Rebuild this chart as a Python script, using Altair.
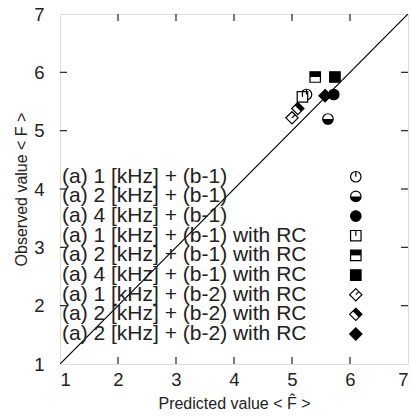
import altair as alt
import pandas as pd

# ---- data ----
series = ["(a) 1 [kHz] + (b-1)", "(a) 2 [kHz] + (b-1)", "(a) 4 [kHz] + (b-1)",
          "(a) 1 [kHz] + (b-1) with RC", "(a) 2 [kHz] + (b-1) with RC", "(a) 4 [kHz] + (b-1) with RC",
          "(a) 1 [kHz] + (b-2) with RC", "(a) 2 [kHz] + (b-2) with RC", "(a) 2 [kHz] + (b-2) with RC "]
predicted = [5.25, 5.62, 5.72, 5.18, 5.40, 5.74, 5.00, 5.10, 5.57]
observed = [5.62, 5.20, 5.62, 5.58, 5.92, 5.92, 5.22, 5.38, 5.60]
ticks = [1, 2, 3, 4, 5, 6, 7]
inner_ticks = [2, 3, 4, 5, 6]

# ---- marker styles ----
CIRC = "M-1,0A1,1 0 1,0 1,0A1,1 0 1,0 -1,0Z"
CIRC_BOT = "M-1,0A1,1 0 0,0 1,0Z"
SQ = "M-1,-1H1V1H-1Z"
SQ_TOP = "M-1,-1H1V0H-1Z"
DIA = "M0,-1L1,0L0,1L-1,0Z"
DIA_HALF = "M-0.5,-0.5L0,-1L1,0L0.5,0.5Z"
TICK_V = "M0,-1L0,0"
TICK_D = "M0.5,-0.5L0,0"
base_shape = [CIRC, CIRC, CIRC, SQ, SQ, SQ, DIA, DIA, DIA]
base_fill = ["white", "white", "black", "white", "white", "black", "white", "white", "black"]
half_shape = ["", CIRC_BOT, "", "", SQ_TOP, "", "", DIA_HALF, ""]
tick_shape = [TICK_V, "", "", TICK_V, "", "", TICK_D, "", ""]
msize = [110, 110, 110, 110, 110, 110, 150, 150, 150]

rows = []
for i, s in enumerate(series):
    common = dict(series=s, base=base_shape[i], fillc=base_fill[i], half=half_shape[i],
                  tick=tick_shape[i], size=msize[i], row=i)
    rows.append(dict(common, x=predicted[i], y=observed[i], kind="data"))
    rows.append(dict(common, x=6.1, y=4.21 - i * 0.337, kind="legend"))
df = pd.DataFrame(rows)
leg = df[df.kind == "legend"]

xs = alt.Scale(domain=[1, 7], nice=False, zero=False)
ys = alt.Scale(domain=[1, 7], nice=False, zero=False)
FONT = "Liberation Sans"

xaxis = alt.Axis(values=ticks, format="d", domain=False, ticks=False, grid=False, labelFontSize=18.5,
                 labelFont=FONT, labelColor="#222", labelPadding=6,
                 title="Predicted value < F\u0302 >", titleFont=FONT, titleFontSize=16,
                 titleFontWeight="normal", titleColor="#222", titlePadding=7)
yaxis = alt.Axis(values=ticks, format="d", domain=False, ticks=False, grid=False, labelFontSize=18.5,
                 labelFont=FONT, labelColor="#222", labelPadding=16,
                 title="Observed value < F >", titleFont=FONT, titleFontSize=16,
                 titleFontWeight="normal", titleColor="#222", titlePadding=4)

diag = alt.Chart(pd.DataFrame({"x": [1, 7], "y": [1, 7]})).mark_line(
    color="black", strokeWidth=1.2, clip=True).encode(
    x=alt.X("x:Q", scale=xs, axis=xaxis), y=alt.Y("y:Q", scale=ys, axis=yaxis))

# inward ticks on all four sides
L = 0.12
tk = pd.DataFrame({"v": inner_ticks})
tb = alt.Chart(tk).mark_rule(color="#222", strokeWidth=1.2).transform_calculate(
    a="1", b=f"1+{L}").encode(x="v:Q", y="a:Q", y2="b:Q")
tt = alt.Chart(tk).mark_rule(color="#222", strokeWidth=1.2).transform_calculate(
    a="7", b=f"7-{L}").encode(x="v:Q", y="a:Q", y2="b:Q")
tl = alt.Chart(tk).mark_rule(color="#222", strokeWidth=1.2).transform_calculate(
    a="1", b=f"1+{L}").encode(y="v:Q", x="a:Q", x2="b:Q")
tr = alt.Chart(tk).mark_rule(color="#222", strokeWidth=1.2).transform_calculate(
    a="7", b=f"7-{L}").encode(y="v:Q", x="a:Q", x2="b:Q")

legtext = alt.Chart(leg).mark_text(align="left", baseline="middle", font=FONT,
                                   fontSize=21, color="#222").encode(
    x=alt.value(2), y="y:Q", text="series:N")

pts = alt.Chart(df).encode(x="x:Q", y="y:Q")
base = pts.mark_point(filled=True, stroke="black", strokeWidth=1.2, opacity=1).encode(
    shape=alt.Shape("base:N", scale=None), fill=alt.Fill("fillc:N", scale=None),
    size=alt.Size("size:Q", scale=None))
half = pts.transform_filter("datum.half != ''").mark_point(
    filled=True, fill="black", strokeWidth=0, opacity=1).encode(
    shape=alt.Shape("half:N", scale=None), size=alt.Size("size:Q", scale=None))
tick = pts.transform_filter("datum.tick != ''").mark_point(
    filled=False, stroke="black", strokeWidth=1.2, opacity=1).encode(
    shape=alt.Shape("tick:N", scale=None), size=alt.Size("size:Q", scale=None))

chart = alt.layer(diag, tb, tt, tl, tr, legtext, base, half, tick).properties(
    width=348, height=350, autosize="none",
    padding={"left": 60, "top": 14, "right": 3, "bottom": 52},
).configure_view(stroke="#222", strokeWidth=1.5).configure(background="white")

chart.save("out.html", embed_options={"renderer": "svg", "actions": False})
